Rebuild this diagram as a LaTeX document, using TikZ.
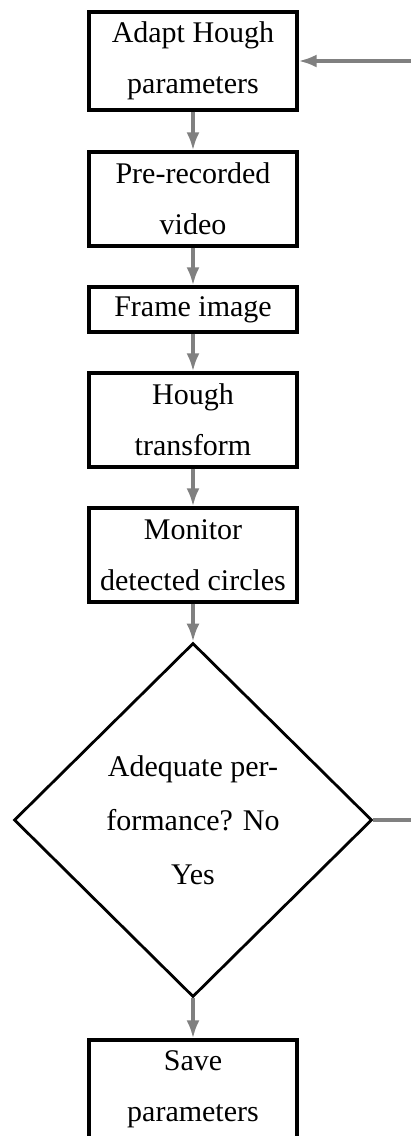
\documentclass[tikz,border=0pt]{standalone}
\usepackage{fontspec}
\setmainfont{Liberation Serif}
\usetikzlibrary{shapes.geometric,arrows.meta}
\definecolor{flowgray}{RGB}{128,128,128}
\tikzset{
  stepbox/.style={draw=black, line width=3.4pt, rectangle, minimum width=208pt,
    inner sep=0pt, align=center, font=\fontsize{30}{51}\selectfont},
  decision/.style={draw=black, line width=2.8pt, shape=diamond, minimum width=358pt,
    minimum height=354pt, inner sep=0pt, align=center,
    font=\fontsize{30}{54}\selectfont},
  flow/.style={draw=flowgray, line width=3.2pt, -{Latex[length=18pt,width=13pt]}}
}
\begin{document}
\begin{tikzpicture}[x=1pt, y=-1pt]
  \useasboundingbox (0,0) rectangle (410,1136);

  \node[stepbox, minimum height=98pt] (adapt) at (193,61) {Adapt Hough\\parameters};
  \node[stepbox, minimum height=94pt] (video) at (193,199) {Pre-recorded\\video};
  \node[stepbox, minimum height=45pt] (frame) at (193,309.5) {Frame image};
  \node[stepbox, minimum height=94pt] (hough) at (193,420) {Hough\\transform};
  \node[stepbox, minimum height=94pt] (monitor) at (193,555) {Monitor\\detected circles};
  \node[decision] (check) at (193,820) {Adequate per-\\formance? No\\Yes};
  \node[stepbox, minimum height=99pt] (save) at (193,1089.5) {Save\\parameters};

  \coordinate (loop) at (440,820);

  \draw[flow] (adapt.south) -- (video.north);
  \draw[flow] (video.south) -- (frame.north);
  \draw[flow] (frame.south) -- (hough.north);
  \draw[flow] (hough.south) -- (monitor.north);
  \draw[flow] (monitor.south) -- (check.north);
  \draw[flow] (check.south) -- (save.north);
  \draw[flow] (check.east) -- (loop) |- (adapt.east);
\end{tikzpicture}
\end{document}
